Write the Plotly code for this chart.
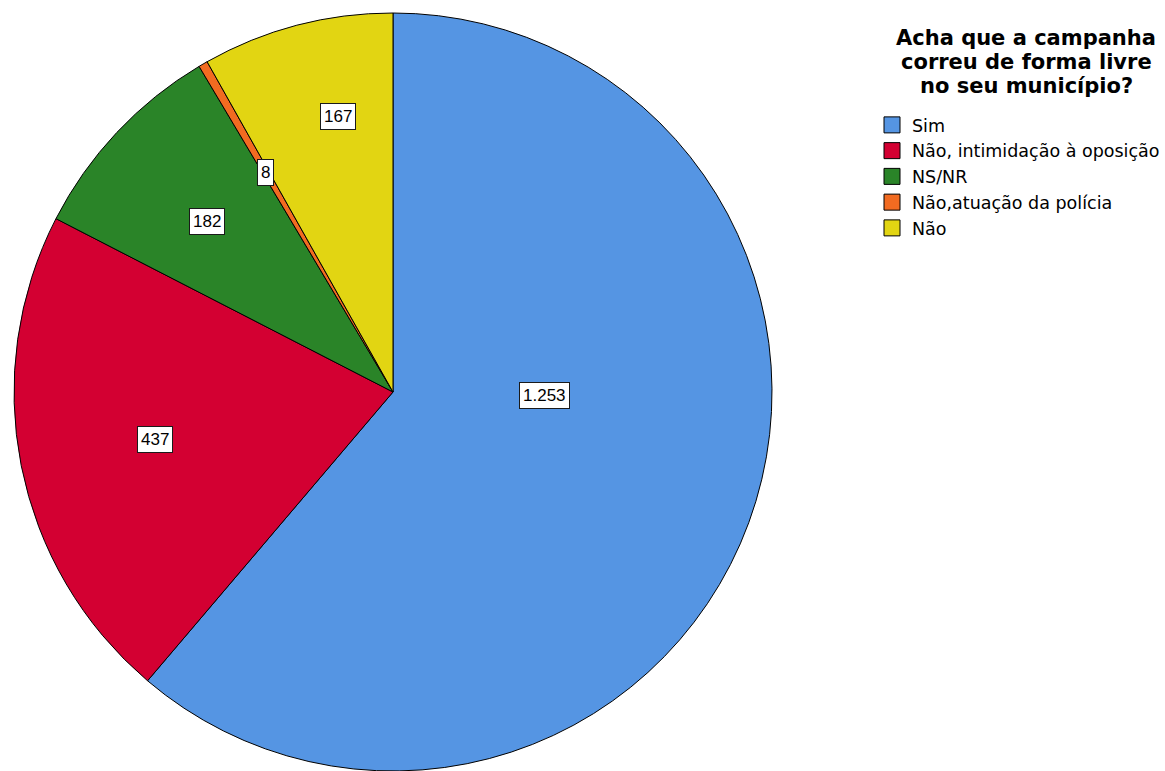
import math
import plotly.graph_objects as go

# Survey answers, in the order the slices are drawn (clockwise from 12 o'clock)
categories = ["Sim", "Não, intimidação à oposição", "NS/NR", "Não,atuação da polícia", "Não"]
counts = [1253, 437, 182, 8, 167]
colors = ["#5595E3", "#D30032", "#2A8428", "#F26B21", "#E2D512"]

legend_title_lines = ["Acha que a campanha", "correu de forma livre", "no seu município?"]

# Label placement: radial fraction and angular nudge (degrees) for each slice label
label_rfrac = [0.40, 0.64, 0.665, 0.67, 0.74]
label_nudge = [-18.7, 0.0, -0.8, 0.0, 3.4]

W, H = 1165, 771
CX, CY, R = 393, 392, 379  # pie centre / radius in pixels
TITLE_X, TITLE_Y0, TITLE_DY = 1026, 38, 23.8  # legend heading block (pixels)

fig = go.Figure()
fig.add_trace(
    go.Pie(
        labels=categories,
        values=counts,
        sort=False,
        direction="clockwise",
        rotation=0,
        textinfo="none",
        showlegend=False,
        marker=dict(colors=colors, line=dict(color="#000000", width=1)),
        domain=dict(x=[(CX - R) / W, (CX + R) / W], y=[(H - CY - R) / H, (H - CY + R) / H]),
        hovertemplate="%{label}: %{value}<extra></extra>",
    )
)

# Legend entries: one square swatch per category
for name, col in zip(categories, colors):
    fig.add_trace(
        go.Scatter(
            x=[None],
            y=[None],
            mode="markers",
            name=name,
            marker=dict(symbol="square", size=16, color=col, line=dict(color="#000000", width=1)),
            hoverinfo="skip",
        )
    )

total = sum(counts)
start = 0.0
annotations = []
for v, rf, nudge in zip(counts, label_rfrac, label_nudge):
    sweep = 360.0 * v / total
    mid = math.radians(start + sweep / 2 + nudge)
    start += sweep
    px = CX + R * rf * math.sin(mid)
    py = CY - R * rf * math.cos(mid)
    annotations.append(
        dict(
            x=px / W,
            y=(H - py) / H,
            xref="paper",
            yref="paper",
            xanchor="center",
            yanchor="middle",
            text=f"{v:,}".replace(",", "."),
            showarrow=False,
            bgcolor="#FFFFFF",
            bordercolor="#1A1A1A",
            borderwidth=1,
            borderpad=3,
            font=dict(family="Liberation Sans, Arial, sans-serif", size=17, color="#000000"),
        )
    )

# Legend heading, one centred line at a time
for i, line in enumerate(legend_title_lines):
    annotations.append(
        dict(
            x=TITLE_X / W,
            y=(H - (TITLE_Y0 + i * TITLE_DY)) / H,
            xref="paper",
            yref="paper",
            xanchor="center",
            yanchor="middle",
            text=f"<b>{line}</b>",
            showarrow=False,
            font=dict(family="DejaVu Sans, sans-serif", size=21, color="#000000"),
        )
    )

fig.update_layout(
    width=W,
    height=H,
    margin=dict(l=0, r=0, t=0, b=0),
    paper_bgcolor="#FFFFFF",
    plot_bgcolor="rgba(0,0,0,0)",
    xaxis=dict(visible=False),
    yaxis=dict(visible=False),
    annotations=annotations,
    legend=dict(
        font=dict(family="DejaVu Sans, sans-serif", size=17.5, color="#000000"),
        itemsizing="trace",
        itemwidth=30,
        x=872 / W,
        y=1 - 107 / H,
        xanchor="left",
        yanchor="top",
        bgcolor="rgba(0,0,0,0)",
        traceorder="normal",
    ),
)

fig.write_html("out.html")
